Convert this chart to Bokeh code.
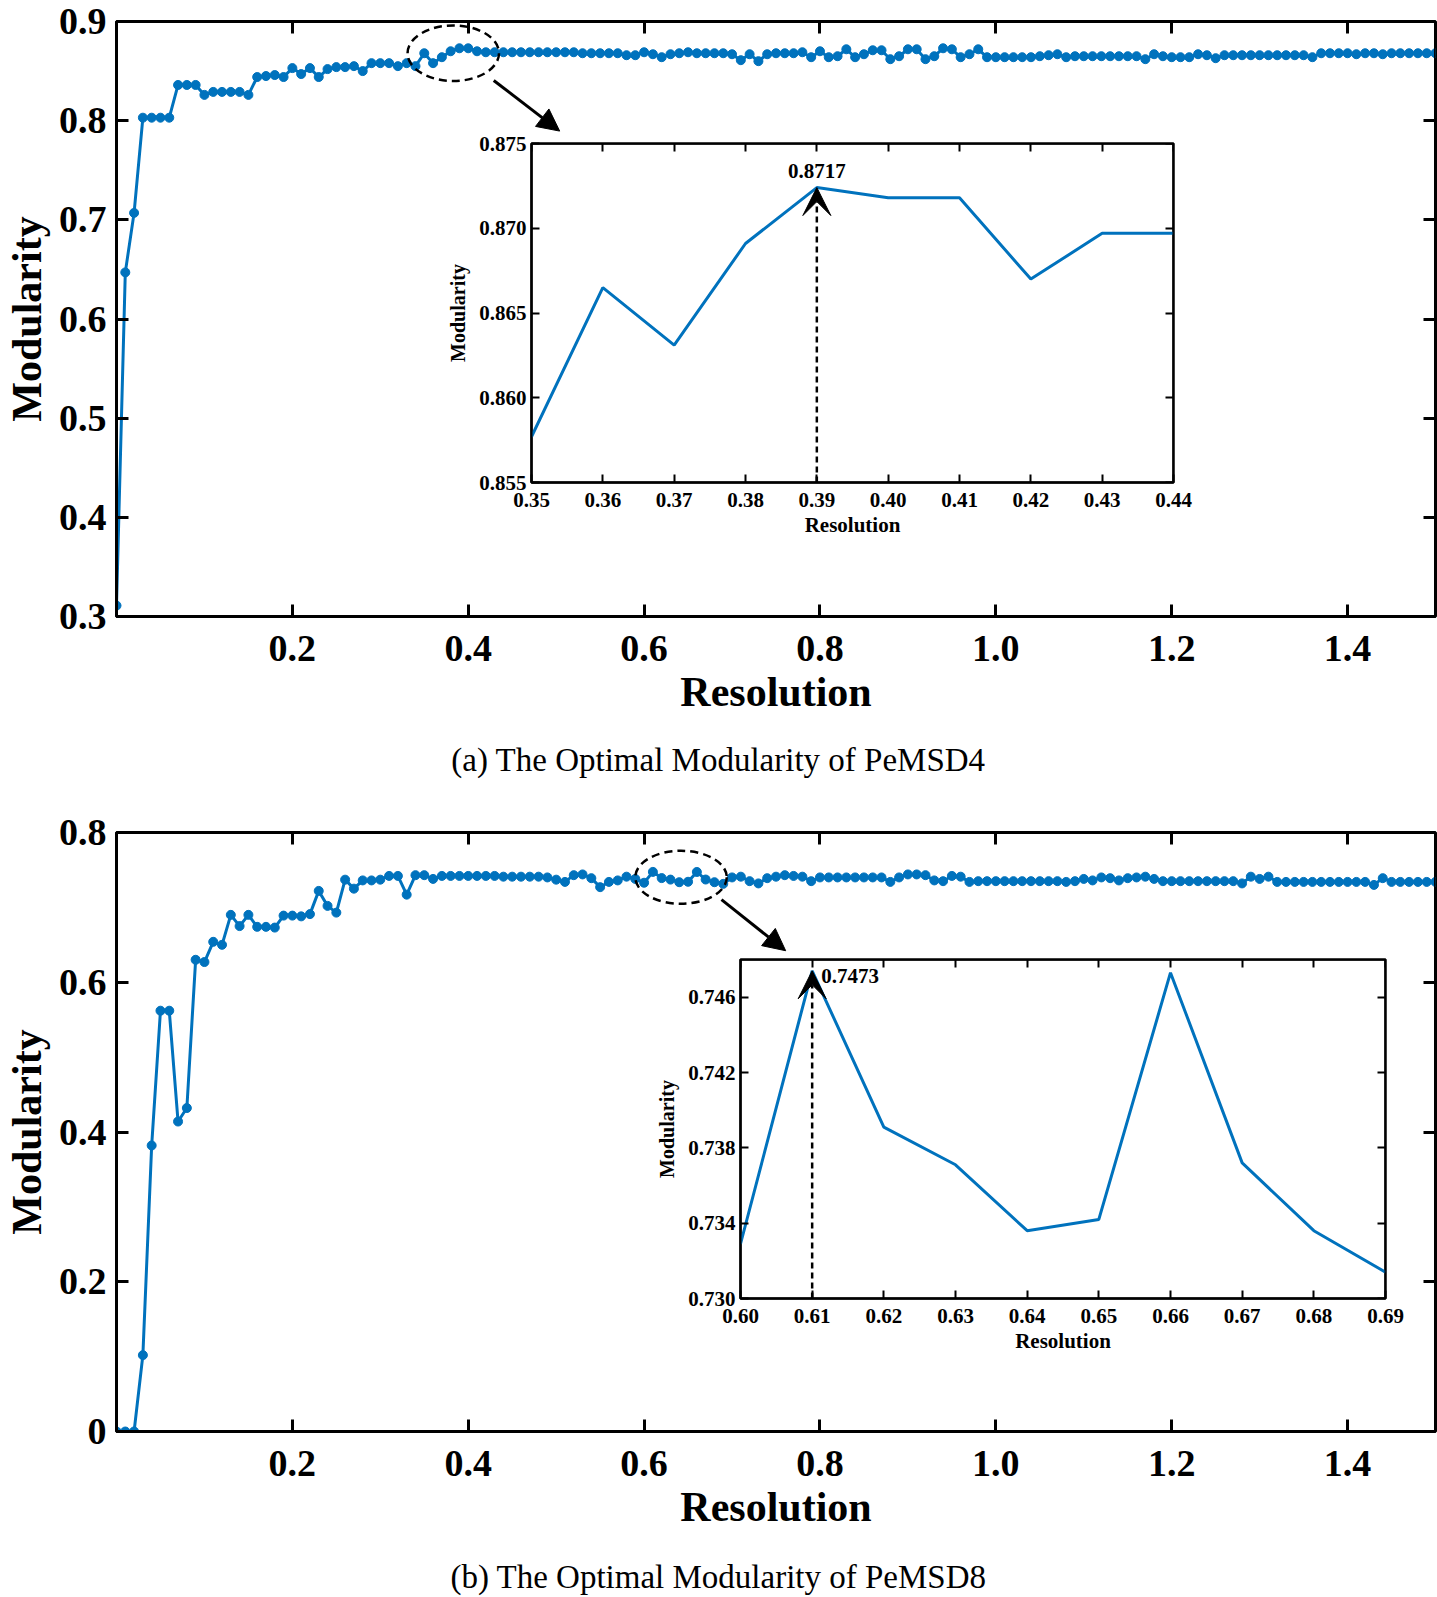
import numpy as np
from bokeh.plotting import figure
from bokeh.models import (GridBox, LinearAxis, FixedTicker, PrintfTickFormatter,
                          CustomJSTickFormatter, Range1d, Arrow, NormalHead,
                          VeeHead, Label)
from bokeh.embed import file_html
from bokeh.resources import INLINE

# ---------------- data ----------------
resolution = np.round(np.arange(0, 151) * 0.01, 2).tolist()   # 0.00 ... 1.50

pemsd4_modularity = [
    0.311, 0.647, 0.707, 0.803, 0.803, 0.803, 0.803, 0.836, 0.836, 0.836,
    0.826, 0.829, 0.829, 0.829, 0.829, 0.826, 0.844, 0.845, 0.846, 0.844,
    0.853, 0.847, 0.853, 0.844, 0.852, 0.854, 0.854, 0.855, 0.850, 0.858,
    0.858, 0.858, 0.855, 0.858, 0.855, 0.868, 0.858, 0.864, 0.870, 0.873,
    0.873, 0.870, 0.869, 0.869, 0.869, 0.869, 0.869, 0.869, 0.869, 0.869,
    0.869, 0.869, 0.869, 0.868, 0.868, 0.868, 0.868, 0.868, 0.866, 0.866,
    0.869, 0.867, 0.864, 0.867, 0.868, 0.869, 0.868, 0.868, 0.868, 0.868,
    0.867, 0.861, 0.867, 0.860, 0.867, 0.868, 0.868, 0.868, 0.869, 0.864,
    0.870, 0.864, 0.865, 0.872, 0.864, 0.867, 0.871, 0.871, 0.862, 0.865,
    0.872, 0.872, 0.862, 0.865, 0.873, 0.872, 0.864, 0.867, 0.872, 0.864,
    0.864, 0.864, 0.864, 0.864, 0.864, 0.865, 0.866, 0.867, 0.864, 0.865,
    0.865, 0.865, 0.865, 0.865, 0.865, 0.865, 0.865, 0.862, 0.867, 0.865,
    0.864, 0.864, 0.864, 0.867, 0.866, 0.863, 0.866, 0.866, 0.866, 0.866,
    0.866, 0.866, 0.866, 0.866, 0.866, 0.866, 0.864, 0.868, 0.868, 0.868,
    0.868, 0.867, 0.868, 0.868, 0.867, 0.868, 0.868, 0.868, 0.868, 0.868,
    0.868,
]

pemsd8_modularity = [
    0.000, 0.000, 0.000, 0.102, 0.382, 0.562, 0.562, 0.414, 0.432, 0.630,
    0.627, 0.654, 0.650, 0.690, 0.675, 0.690, 0.674, 0.674, 0.673, 0.689,
    0.689, 0.688, 0.691, 0.722, 0.702, 0.693, 0.737, 0.725, 0.736, 0.736,
    0.737, 0.742, 0.742, 0.717, 0.743, 0.743, 0.738, 0.742, 0.742, 0.742,
    0.742, 0.742, 0.742, 0.742, 0.741, 0.741, 0.741, 0.741, 0.741, 0.740,
    0.737, 0.734, 0.743, 0.744, 0.739, 0.727, 0.734, 0.736, 0.741, 0.738,
    0.7329, 0.7474, 0.7391, 0.7371, 0.7336, 0.7342, 0.7473, 0.7372, 0.7336, 0.7314,
    0.740, 0.741, 0.735, 0.732, 0.739, 0.741, 0.743, 0.742, 0.741, 0.735,
    0.740, 0.740, 0.740, 0.740, 0.740, 0.740, 0.740, 0.740, 0.734, 0.740,
    0.744, 0.744, 0.743, 0.736, 0.735, 0.742, 0.741, 0.734, 0.735, 0.735,
    0.735, 0.735, 0.735, 0.735, 0.735, 0.735, 0.735, 0.735, 0.734, 0.735,
    0.738, 0.736, 0.740, 0.739, 0.736, 0.739, 0.740, 0.741, 0.738, 0.735,
    0.735, 0.735, 0.735, 0.735, 0.735, 0.735, 0.735, 0.735, 0.732, 0.741,
    0.738, 0.741, 0.734, 0.734, 0.734, 0.734, 0.734, 0.734, 0.734, 0.734,
    0.734, 0.734, 0.734, 0.730, 0.739, 0.734, 0.734, 0.734, 0.734, 0.734,
    0.734,
]

inset4_resolution = [0.35, 0.36, 0.37, 0.38, 0.39, 0.40, 0.41, 0.42, 0.43, 0.44]
inset4_modularity = [0.8577, 0.8665, 0.8631, 0.8691, 0.8724, 0.8718, 0.8718, 0.8670, 0.8697, 0.8697]
inset4_peak_text = "0.8717"

inset8_resolution = [0.60, 0.61, 0.62, 0.63, 0.64, 0.65, 0.66, 0.67, 0.68, 0.69]
inset8_modularity = [0.7329, 0.7474, 0.7391, 0.7371, 0.7336, 0.7342, 0.7473, 0.7372, 0.7336, 0.7314]
inset8_peak_text = "0.7473"

main_xticks = [0.2, 0.4, 0.6, 0.8, 1.0, 1.2, 1.4]
main4_yticks = [0.3, 0.4, 0.5, 0.6, 0.7, 0.8, 0.9]
main8_yticks = [0.0, 0.2, 0.4, 0.6, 0.8]
inset4_yticks = [0.855, 0.860, 0.865, 0.870, 0.875]
inset8_yticks = [0.730, 0.734, 0.738, 0.742, 0.746]

caption_a = "(a) The Optimal Modularity of PeMSD4"
caption_b = "(b) The Optimal Modularity of PeMSD8"

# ---------------- style ----------------
FONT = "Liberation Serif"
BLUE = "#0072BD"
PAGE_W = 1437
EMPTY = CustomJSTickFormatter(code="return ''")


def style_axis(ax, size, tick_len, lw, standoff):
    ax.major_tick_in = tick_len
    ax.major_tick_out = 0
    ax.minor_tick_line_color = None
    ax.major_tick_line_width = lw
    ax.major_tick_line_color = "black"
    ax.axis_line_width = lw
    ax.axis_line_color = "black"
    ax.major_label_text_font = FONT
    ax.major_label_text_font_style = "bold"
    ax.major_label_text_color = "black"
    ax.major_label_text_font_size = f"{size}px"
    ax.major_label_standoff = standoff


def mirror_axes(p, xticks, yticks, x_end, y_end, tick_len, lw):
    top = LinearAxis(ticker=FixedTicker(ticks=xticks), formatter=EMPTY,
                     fixed_location=y_end)
    style_axis(top, 10, tick_len, lw, 0)
    p.add_layout(top, "above")
    right = LinearAxis(ticker=FixedTicker(ticks=yticks), formatter=EMPTY,
                       fixed_location=x_end)
    style_axis(right, 10, tick_len, lw, 0)
    p.add_layout(right, "right")


def set_label(ax, text, size, standoff):
    ax.axis_label = text
    ax.axis_label_text_font = FONT
    ax.axis_label_text_font_style = "bold"
    ax.axis_label_text_font_size = f"{size}px"
    ax.axis_label_text_color = "black"
    ax.axis_label_standoff = standoff


def make_main(yvals, yr, yticks, H, b_top, b_bottom, zoom, arrow):
    p = figure(width=PAGE_W, height=H, x_range=Range1d(0, 1.5), y_range=Range1d(*yr),
               output_backend="svg", toolbar_location=None,
               min_border_left=114, min_border_right=2,
               min_border_top=b_top, min_border_bottom=b_bottom)
    p.grid.visible = False
    p.outline_line_color = "black"
    p.outline_line_width = 3
    p.background_fill_color = "white"
    p.border_fill_color = "white"

    p.line(resolution, yvals, line_color=BLUE, line_width=3)
    p.scatter(resolution, yvals, size=9, fill_color=BLUE, line_color=BLUE)

    xa, ya = p.xaxis[0], p.yaxis[0]
    xa.ticker = FixedTicker(ticks=main_xticks)
    xa.formatter = PrintfTickFormatter(format="%.1f")
    style_axis(xa, 38, 12, 3, 19)
    set_label(xa, "Resolution", 42, 5)

    ya.ticker = FixedTicker(ticks=yticks)
    ya.formatter = PrintfTickFormatter(format="%.1f")
    ya.major_label_overrides = {0: "0"}
    style_axis(ya, 38, 12, 3, 10)
    set_label(ya, "Modularity", 42, 6)

    mirror_axes(p, main_xticks, yticks, 1.5, yr[1], 12, 3)

    cx, cy, w, h = zoom
    p.ellipse(x=[cx], y=[cy], width=[w], height=[h], fill_color=None,
              line_color="black", line_width=2.5, line_dash="8 5")
    x0, y0, x1, y1 = arrow
    p.add_layout(Arrow(end=NormalHead(size=22, fill_color="black",
                                      line_color="black", line_width=1),
                       x_start=x0, y_start=y0, x_end=x1, y_end=y1,
                       line_color="black", line_width=3))
    return p


def make_inset(xs, ys, yr, yticks, fw, fh, peak_i, peak_text, text_right):
    p = figure(width=95 + fw + 20, height=14 + fh + 62,
               x_range=Range1d(xs[0], xs[-1]), y_range=Range1d(*yr),
               output_backend="svg", toolbar_location=None,
               min_border_left=95, min_border_right=20,
               min_border_top=14, min_border_bottom=62)
    p.grid.visible = False
    p.border_fill_alpha = 0
    p.background_fill_color = "white"
    p.outline_line_color = "black"
    p.outline_line_width = 2.5

    p.line(xs, ys, line_color=BLUE, line_width=3)

    xa, ya = p.xaxis[0], p.yaxis[0]
    xa.ticker = FixedTicker(ticks=xs)
    xa.formatter = PrintfTickFormatter(format="%.2f")
    style_axis(xa, 21, 8, 2, 10)
    set_label(xa, "Resolution", 21, 3)

    ya.ticker = FixedTicker(ticks=yticks)
    ya.formatter = PrintfTickFormatter(format="%.3f")
    style_axis(ya, 21, 8, 2, 5)
    set_label(ya, "Modularity", 20, 7)

    mirror_axes(p, xs, yticks, xs[-1], yr[1], 8, 2)

    px, py = xs[peak_i], ys[peak_i]
    p.add_layout(Arrow(end=VeeHead(size=28, fill_color="black", line_color="black",
                                   line_width=1),
                       x_start=px, y_start=yr[0], x_end=px, y_end=py,
                       line_color="black", line_width=2.5, line_dash="6 4"))
    if text_right:
        lab = Label(x=px, y=py, text=peak_text, x_offset=9, y_offset=-5,
                    text_align="left", text_baseline="middle")
    else:
        lab = Label(x=px, y=py, text=peak_text, y_offset=10,
                    text_align="center", text_baseline="bottom")
    lab.text_font = FONT
    lab.text_font_style = "bold"
    lab.text_font_size = "21px"
    lab.text_color = "black"
    p.add_layout(lab)
    return p


def make_caption(text, w, h):
    p = figure(width=w, height=h, x_range=Range1d(0, 1), y_range=Range1d(0, 1),
               output_backend="svg", toolbar_location=None, min_border=0,
               x_axis_location=None, y_axis_location=None)
    p.grid.visible = False
    p.outline_line_color = None
    p.background_fill_alpha = 0
    p.border_fill_alpha = 0
    p.add_layout(Label(x=0.5, y=0.5, text=text, text_align="center",
                       text_baseline="middle", text_font=FONT,
                       text_font_size="33px", text_color="black"))
    return p


main1 = make_main(pemsd4_modularity, (0.3, 0.9), main4_yticks, 739, 21, 123,
                  zoom=(0.383, 0.868, 0.104, 0.056),
                  arrow=(0.429, 0.8405, 0.504, 0.7895))
main2 = make_main(pemsd8_modularity, (0.0, 0.8), main8_yticks, 777, 53, 125,
                  zoom=(0.642, 0.7402, 0.104, 0.0708),
                  arrow=(0.688, 0.7103, 0.761, 0.6421))

inset1 = make_inset(inset4_resolution, inset4_modularity, (0.855, 0.875),
                    inset4_yticks, 642, 339, 4, inset4_peak_text, False)
inset2 = make_inset(inset8_resolution, inset8_modularity, (0.730, 0.748),
                    inset8_yticks, 645, 339, 1, inset8_peak_text, True)

cap1 = make_caption(caption_a, 700, 40)
cap2 = make_caption(caption_b, 700, 40)

# placement (x, y of each element's top-left corner on the page)
items = [
    (main1, 0, 0),
    (cap1, 368, 739),
    (main2, 0, 779),
    (cap2, 368, 1556),
    (inset1, 436, 129),
    (inset2, 645, 945),
]
xb = sorted({x for _, x, _ in items} | {x + m.width for m, x, _ in items})
yb = sorted({y for _, _, y in items} | {y + m.height for m, _, y in items})
cols = [f"{b - a}px" for a, b in zip(xb, xb[1:])]
rows = [f"{b - a}px" for a, b in zip(yb, yb[1:])]
children = []
for m, x, y in items:
    c0, c1 = xb.index(x), xb.index(x + m.width)
    r0, r1 = yb.index(y), yb.index(y + m.height)
    children.append((m, r0, c0, r1 - r0, c1 - c0))

layout = GridBox(children=children, rows=rows, cols=cols, spacing=0)

open("out.html", "w").write(file_html(layout, INLINE, title="Optimal Modularity"))
